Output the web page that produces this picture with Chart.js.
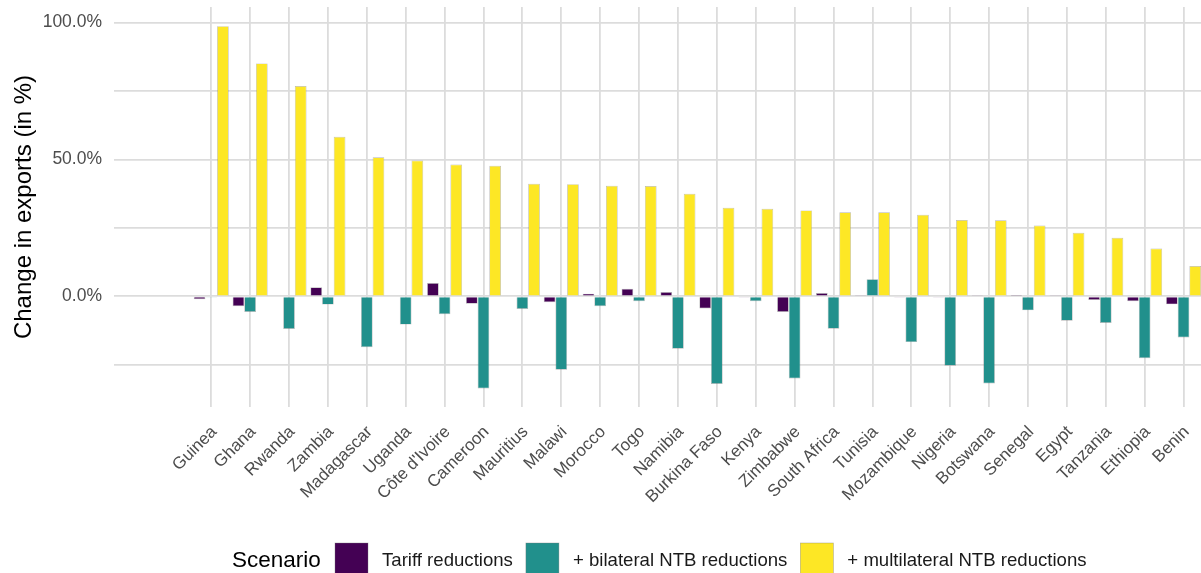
<!DOCTYPE html>
<html><head><meta charset="utf-8">
<script src="https://cdn.jsdelivr.net/npm/chart.js@4.4.0/dist/chart.umd.min.js"></script>
<style>
html,body{margin:0;padding:0;background:#fff;overflow:hidden;}
#wrap{width:1201px;height:573px;overflow:hidden;position:relative;}
canvas{display:block;}
</style></head><body>
<div id="wrap"><canvas id="c" width="1203" height="573" style="width:1203px;height:573px"></canvas></div>
<script>
const countries = ['Guinea','Ghana','Rwanda','Zambia','Madagascar','Uganda','Côte d\'Ivoire','Cameroon','Mauritius','Malawi','Morocco','Togo','Namibia','Burkina Faso','Kenya','Zimbabwe','South Africa','Tunisia','Mozambique','Nigeria','Botswana','Senegal','Egypt','Tanzania','Ethiopia','Benin'];
const tariff = [-1.0,-3.6,-0.3,3.3,-0.3,-0.3,4.9,-2.7,0,-2.1,1.0,2.8,1.6,-4.4,-0.4,-5.7,1.2,0.2,-0.4,-0.2,0.2,0.5,0.2,-1.3,-1.8,-2.9];
const bilateral = [-0.2,-5.7,-11.9,-3.0,-18.6,-10.3,-6.5,-33.6,-4.6,-26.8,-3.6,-1.8,-19.1,-32.0,-1.8,-30.0,-11.8,6.3,-16.7,-25.3,-31.8,-5.1,-8.9,-9.7,-22.6,-15.0];
const multilateral = [98.7,85.1,76.8,58.3,50.8,49.6,48.2,47.7,41.1,41.0,40.4,40.3,37.5,32.4,32.0,31.4,30.7,30.7,29.8,27.9,27.8,25.9,23.2,21.4,17.5,11.1];
const seriesNames = ['Tariff reductions','+ bilateral NTB reductions','+ multilateral NTB reductions'];
const seriesColors = ['#440154','#21908C','#FDE725'];
const yTickValues = [-25,0,25,50,75,100];
const yTickLabels = ['','0.0%','','50.0%','','100.0%'];
const legendTitle = 'Scenario';
const yTitle = 'Change in exports (in %)';
const leadingBlanks = 2;

const FONT = '"Liberation Sans", Arial, Helvetica, sans-serif';
const GRID = '#dcdcdc';
const blanks = Array(leadingBlanks).fill('');
const blankData = Array(leadingBlanks).fill(null);
const labels = blanks.concat(countries);
const seriesData = [tariff, bilateral, multilateral];

const legendPlugin = {
  id: 'ggLegend',
  afterDraw(chart) {
    const ctx = chart.ctx;
    ctx.save();
    const cy = 561;
    let x = 232;
    ctx.textBaseline = 'middle';
    ctx.textAlign = 'left';
    ctx.fillStyle = '#000';
    ctx.font = '22.5px ' + FONT;
    ctx.fillText(legendTitle, x, cy);
    x = 335;
    ctx.font = '18.6px ' + FONT;
    chart.data.datasets.forEach(ds => {
      ctx.fillStyle = ds.backgroundColor;
      ctx.fillRect(x, 543, 33, 33);
      ctx.strokeStyle = 'rgba(120,120,120,0.5)';
      ctx.lineWidth = 0.7;
      ctx.strokeRect(x, 543, 33, 33);
      x += 33 + 14;
      ctx.fillStyle = '#1a1a1a';
      ctx.fillText(ds.label, x, cy);
      x += ctx.measureText(ds.label).width + 13;
    });
    ctx.restore();
  }
};

new Chart(document.getElementById('c'), {
  type: 'bar',
  data: {
    labels: labels,
    datasets: seriesNames.map((n, i) => ({
      label: n,
      data: blankData.concat(seriesData[i]),
      backgroundColor: seriesColors[i],
      borderColor: 'rgba(120,120,120,0.55)',
      borderWidth: 0.7,
      categoryPercentage: 0.9,
      barPercentage: 1.0
    }))
  },
  options: {
    responsive: false,
    animation: false,
    devicePixelRatio: 1,
    layout: { padding: { top: 7, right: 0, bottom: 0, left: 0 } },
    plugins: { legend: { display: false }, tooltip: { enabled: false } },
    scales: {
      x: {
        type: 'category',
        offset: true,
        grid: {
          offset: false,
          drawTicks: false,
          lineWidth: 1.8,
          color: c => (c.index < leadingBlanks ? 'rgba(0,0,0,0)' : GRID)
        },
        border: { display: false },
        ticks: {
          autoSkip: false,
          minRotation: 45,
          maxRotation: 45,
          padding: 15,
          labelOffset: 3,
          color: '#4d4d4d',
          font: { family: FONT, size: 17 }
        },
        afterFit: s => { s.height = 166; s.paddingLeft = 0; s.paddingRight = 0; }
      },
      y: {
        min: -40.4,
        max: 105.7,
        grid: { drawTicks: false, lineWidth: 1.8, color: GRID },
        border: { display: false },
        afterBuildTicks: s => { s.ticks = yTickValues.map(v => ({ value: v })); },
        ticks: {
          padding: 12,
          color: '#4d4d4d',
          font: { family: FONT, size: 17.5 },
          callback: function (v) { const i = yTickValues.indexOf(v); return i >= 0 ? yTickLabels[i] : ''; }
        },
        title: {
          display: true,
          text: yTitle,
          color: '#000',
          font: { family: FONT, size: 24 },
          padding: { top: 10, bottom: 0 }
        },
        afterFit: s => { s.width = 114; s.paddingTop = 0; s.paddingBottom = 0; }
      }
    }
  },
  plugins: [legendPlugin]
});
</script>
</body></html>
